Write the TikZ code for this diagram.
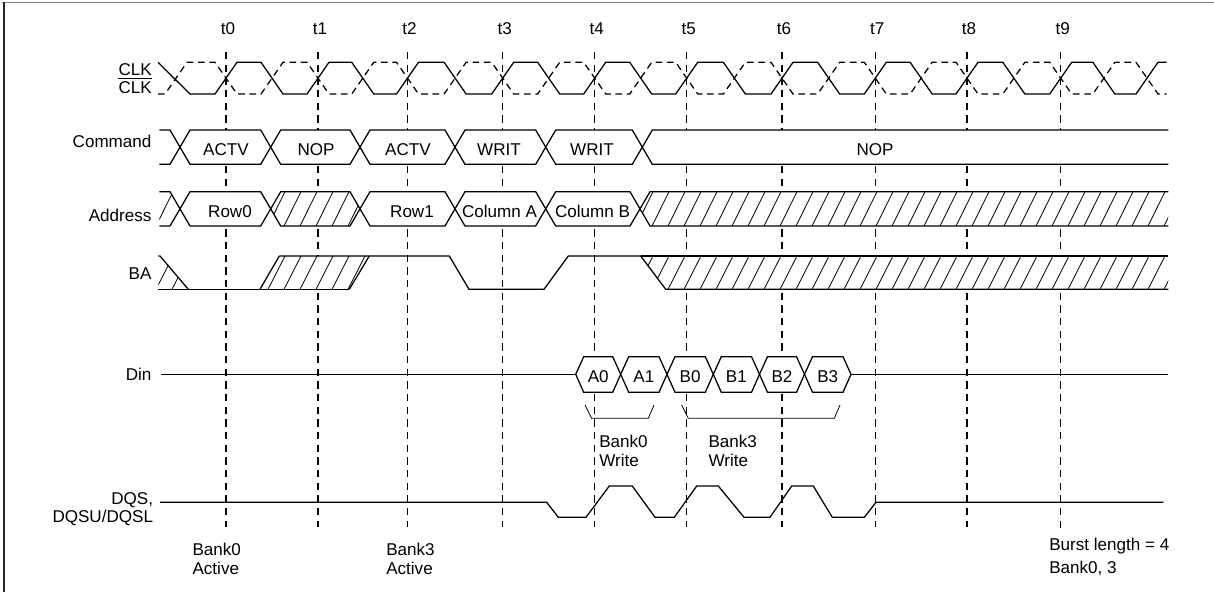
\documentclass[tikz,border=0pt]{standalone}
\usepackage{fontspec}
\setmainfont{Liberation Sans}
\newcommand\hatchrow[3]{%
  \begin{scope}
    \fill[white] #1;
    \clip #1;
    \foreach \hx in {140,156,...,1190} \draw[hatchln] (\hx,#3) -- (\hx+17,#2);
  \end{scope}}
\begin{document}
\begin{tikzpicture}[x=0.75pt,y=-0.75pt,
  sig/.style={line width=0.95pt, line join=miter},
  box/.style={sig, fill=white},
  tline/.style={line width=1pt, dash pattern=on 5.5pt off 4pt},
  clkdash/.style={sig, dash pattern=on 5pt off 3.5pt},
  hatchln/.style={line width=0.6pt},
  thin/.style={line width=0.6pt},
  lbl/.style={inner sep=0pt, font=\fontsize{12.8}{15}\selectfont},
]
\useasboundingbox (0,0) rectangle (1214,592);
% frame
\draw[gray, line width=1.2pt] (2,2.5) -- (1214,2.5);
\draw[black!85, line width=1pt] (4,2) -- (4,592);

% time markers
\foreach \x/\n/\e in {226/0/527, 318/1/527, 407.5/2/527, 502.7/3/527, 594.7/4/527, 686.7/5/527, 782/6/527, 875.3/7/527, 967/8/527, 1060.7/9/533} {
  \draw[tline] (\x,52) -- (\x,\e);
  \node[lbl, anchor=base] (t\n) at (\x+2,35) {t\n};
}

% clock
\def\clkhi{62.3}\def\clklo{94}
\draw[clkdash] (158,\clklo) -- (165,\clklo) -- (187,\clkhi) -- (215,\clkhi) -- (237,\clklo)
  \foreach \ti [remember=\ti as \tp (initially 226)] in {318,407.5,502.7,594.7,686.7,782,875.3,967,1060.7,1147}
  { -- ({(\tp+\ti)/2-11},\clklo) -- ({(\tp+\ti)/2+11},\clkhi) -- (\ti-11,\clkhi) -- (\ti+11,\clklo) }
  -- (1166.7,\clklo);
\draw[sig] (158,\clkhi) -- (190,\clklo) -- (215,\clklo) -- (237,\clkhi)
  \foreach \ti [remember=\ti as \tp (initially 226)] in {318,407.5,502.7,594.7,686.7,782,875.3,967,1060.7,1147}
  { -- ({(\tp+\ti)/2-11},\clkhi) -- ({(\tp+\ti)/2+11},\clklo) -- (\ti-11,\clklo) -- (\ti+11,\clkhi) }
  -- (1166.7,\clkhi);

% command row
\def\cT{130}\def\cB{164.3}\def\cM{147.15}
\draw[sig] (159.3,\cT) -- (170,\cT) -- (180,\cM) -- (170,\cB) -- (159.3,\cB);
\foreach \a/\b in {180/270.7, 270.7/360, 360/455, 455/545.7, 545.7/642.3}
  \draw[box] (\a,\cM) -- (\a+10,\cT) -- (\b-10,\cT) -- (\b,\cM) -- (\b-10,\cB) -- (\a+10,\cB) -- cycle;
\fill[white] (642.3,\cM) -- (652.3,\cT) -- (1168.3,\cT) -- (1168.3,\cB) -- (652.3,\cB) -- cycle;
\draw[sig] (1168.3,\cT) -- (652.3,\cT) -- (642.3,\cM) -- (652.3,\cB) -- (1168.3,\cB);
\node[lbl, anchor=base] (c0) at (226,155) {ACTV};
\node[lbl, anchor=base] (c1) at (316,155) {NOP};
\node[lbl, anchor=base] (c2) at (408,155) {ACTV};
\node[lbl, anchor=base] (c3) at (499,155) {WRIT};
\node[lbl, anchor=base] (c4) at (592,155) {WRIT};
\node[lbl, anchor=base] (c5) at (875,155) {NOP};

% address row
\def\aT{191.7}\def\aB{226}\def\aM{208.85}
\hatchrow{(159.3,\aT) -- (170,\aT) -- (180,\aM) -- (170,\aB) -- (159.3,\aB) -- cycle}{\aT}{\aB}
\draw[sig] (159.3,\aT) -- (170,\aT) -- (180,\aM) -- (170,\aB) -- (159.3,\aB);
\foreach \a/\b in {180/270.7, 360/455, 455/545.7, 545.7/640}
  \draw[box] (\a,\aM) -- (\a+10,\aT) -- (\b-10,\aT) -- (\b,\aM) -- (\b-10,\aB) -- (\a+10,\aB) -- cycle;
\hatchrow{(270.7,\aM) -- (280.7,\aT) -- (350,\aT) -- (360,\aM) -- (350,\aB) -- (280.7,\aB) -- cycle}{\aT}{\aB}
\draw[sig] (270.7,\aM) -- (280.7,\aT) -- (350,\aT) -- (360,\aM) -- (350,\aB) -- (280.7,\aB) -- cycle;
\hatchrow{(640,\aM) -- (650,\aT) -- (1168.3,\aT) -- (1168.3,\aB) -- (650,\aB) -- cycle}{\aT}{\aB}
\draw[sig] (1168.3,\aT) -- (650,\aT) -- (640,\aM) -- (650,\aB) -- (1168.3,\aB);
\node[lbl, anchor=base] (a0) at (230,217.7) {Row0};
\node[lbl, anchor=base] (a1) at (412,217.7) {Row1};
\node[lbl, anchor=base] (a2) at (499.5,217.7) {Column A};
\node[lbl, anchor=base] (a3) at (592.5,217.7) {Column B};

% BA row
\def\bH{256}\def\bL{289.3}
\hatchrow{(158.3,\bH) -- (160,\bH) -- (188.3,\bL) -- (158.3,\bL) -- cycle}{\bH}{\bL}
\hatchrow{(260,\bL) -- (279.3,\bH) -- (369.3,\bH) -- (349.3,\bL) -- cycle}{\bH}{\bL}
\hatchrow{(640.7,\bH) -- (1168.3,\bH) -- (1168.3,\bL) -- (665.7,\bL) -- cycle}{\bH}{\bL}
\draw[sig] (158.3,\bH) -- (160,\bH) -- (188.3,\bL);
\draw[sig] (158.3,\bL) -- (349.3,\bL);
\draw[sig] (260,\bL) -- (279.3,\bH);
\draw[sig] (349.3,\bL) -- (369.3,\bH);
\draw[sig] (279.3,\bH) -- (449.3,\bH) -- (469,\bL) -- (544,\bL) -- (568.3,\bH) -- (640.7,\bH) -- (665.7,\bL) -- (1168.3,\bL);
\draw[sig] (640.7,\bH) -- (1168.3,\bH);

% Din row
\def\dY{374.3}\def\dT{356.7}\def\dB{392.3}
\draw[sig] (161,\dY) -- (575.7,\dY);
\foreach \a/\b/\txt/\nm in {575.7/620.7/A0/d0, 620.7/667/A1/d1, 667/713.3/B0/d2, 713.3/759.5/B1/d3, 759.5/804.5/B2/d4, 804.5/851/B3/d5} {
  \draw[box] (\a,\dY) -- (\a+8,\dT) -- (\b-8,\dT) -- (\b,\dY) -- (\b-8,\dB) -- (\a+8,\dB) -- cycle;
  \node[lbl, anchor=base] (\nm) at ({(\a+\b)/2},382.3) {\txt};
}
\draw[sig] (851,\dY) -- (1168.3,\dY);

% brackets
\draw[thin] (585,405) -- (591.7,418.3) -- (648.3,418.3) -- (654,405);
\draw[thin] (681.7,405) -- (688.3,418.3) -- (834.3,418.3) -- (840,405);
\node[lbl, anchor=base west] (w0a) at (599,447.7) {Bank0};
\node[lbl, anchor=base west] (w0b) at (599,466) {Write};
\node[lbl, anchor=base west] (w3a) at (708.3,447.7) {Bank3};
\node[lbl, anchor=base west] (w3b) at (708.3,466) {Write};

% DQS
\def\qM{502.3}\def\qH{486}\def\qL{517.3}
\draw[sig] (160,\qM) -- (546.7,\qM) -- (558.3,\qL) -- (586,\qL) -- (609.3,\qH) -- (632.3,\qH) -- (655,\qL) -- (674.3,\qL) -- (696.7,\qH) -- (718.3,\qH) -- (744,\qL) -- (770,\qL) -- (791.7,\qH) -- (813.3,\qH) -- (832.3,\qL) -- (864.3,\qL) -- (876,\qM) -- (1163.3,\qM);

% signal labels
\node[lbl, anchor=base east] (lclk) at (152,75) {CLK};
\node[lbl, anchor=base east] (lclkb) at (152,93.3) {CLK};
\draw[line width=0.7pt] ([yshift=2.3pt]lclkb.north west) -- ([yshift=2.3pt]lclkb.north east);
\node[lbl, anchor=base east] (lcmd) at (151.7,147.3) {Command};
\node[lbl, anchor=base east] (ladr) at (151.7,221.7) {Address};
\node[lbl, anchor=base east] (lba) at (151.7,279.3) {BA};
\node[lbl, anchor=base east] (ldin) at (151.7,380) {Din};
\node[lbl, anchor=base east] (ldqs) at (153.3,504) {DQS,};
\node[lbl, anchor=base east] (ldqs2) at (153.3,522.7) {DQSU/DQSL};

% bottom notes
\node[lbl, anchor=base west] (n0a) at (192.3,555.7) {Bank0};
\node[lbl, anchor=base west] (n0b) at (192.3,574.7) {Active};
\node[lbl, anchor=base west] (n3a) at (386,555.7) {Bank3};
\node[lbl, anchor=base west] (n3b) at (386,574.7) {Active};
\node[lbl, anchor=base west] (nba) at (1049,550.7) {Burst length = 4};
\node[lbl, anchor=base west] (nbb) at (1049,573.3) {Bank0, 3};
\end{tikzpicture}
\end{document}
